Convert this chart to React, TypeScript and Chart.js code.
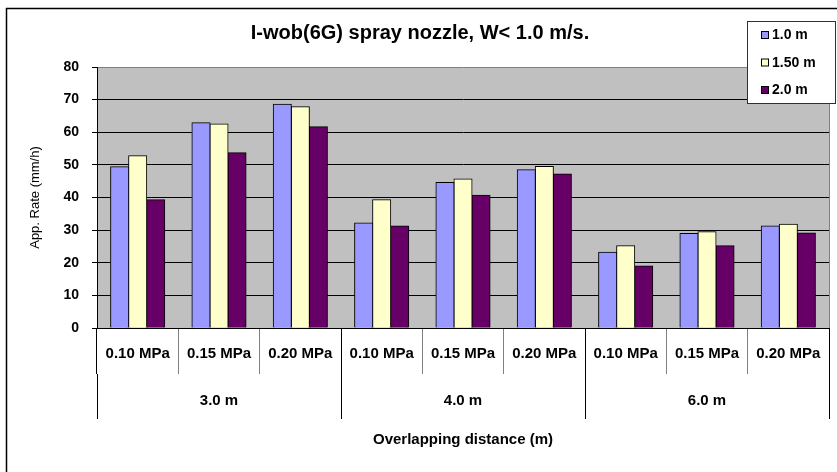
import React, { useEffect, useRef } from 'react';
import { Chart, registerables } from 'chart.js';

Chart.register(...registerables);

const chartTitle = 'I-wob(6G) spray nozzle, W< 1.0 m/s.';
const yAxisTitle = 'App. Rate (mm/h)';
const xAxisTitle = 'Overlapping distance (m)';

const pressureLabels = [
  '0.10 MPa', '0.15 MPa', '0.20 MPa',
  '0.10 MPa', '0.15 MPa', '0.20 MPa',
  '0.10 MPa', '0.15 MPa', '0.20 MPa',
];
const distanceGroups = ['3.0 m', '4.0 m', '6.0 m'];

const seriesNames = ['1.0 m', '1.50 m', '2.0 m'];
const series1 = [49.4, 62.9, 68.6, 32.2, 44.6, 48.5, 23.2, 29.0, 31.3];
const series2 = [52.8, 62.5, 67.8, 39.3, 45.7, 49.5, 25.2, 29.5, 31.8];
const series3 = [39.3, 53.7, 61.7, 31.3, 40.7, 47.2, 19.0, 25.2, 29.1];
const seriesColors = ['#9999FF', '#FFFFCC', '#660066'];

const yMin = 0;
const yMax = 80;
const yStep = 10;

const FONT = '"Liberation Sans", Arial, Helvetica, sans-serif';

const framePlugin = {
  id: 'frame',
  beforeDraw(chart: any) {
    const { ctx, chartArea } = chart;
    ctx.save();
    ctx.fillStyle = '#FFFFFF';
    ctx.fillRect(0, 0, chart.width, chart.height);
    // outer chart border (left & top visible)
    ctx.strokeStyle = '#000000';
    ctx.lineWidth = 1.5;
    ctx.beginPath();
    ctx.moveTo(6.5, chart.height + 2);
    ctx.lineTo(6.5, 8.5);
    ctx.lineTo(chart.width + 2, 8.5);
    ctx.stroke();
    // plot area background
    ctx.fillStyle = '#C0C0C0';
    ctx.fillRect(chartArea.left, chartArea.top, chartArea.right - chartArea.left, chartArea.bottom - chartArea.top);
    ctx.restore();
  },
  beforeDatasetsDraw(chart: any) {
    const { ctx, chartArea } = chart;
    ctx.save();
    ctx.strokeStyle = '#808080';
    ctx.lineWidth = 1;
    ctx.beginPath();
    const x = Math.round(chartArea.right) + 0.5;
    ctx.moveTo(x, chartArea.top);
    ctx.lineTo(x, chartArea.bottom);
    ctx.stroke();
    ctx.restore();
  },
};

const boxLegendPlugin = {
  id: 'boxLegend',
  afterDraw(chart: any) {
    const { ctx } = chart;
    const left = 747;
    const top = 21;
    const w = 89;
    const h = 83;
    ctx.save();
    ctx.fillStyle = '#FFFFFF';
    ctx.fillRect(left, top, w, h);
    ctx.strokeStyle = '#303030';
    ctx.lineWidth = 1;
    ctx.strokeRect(left + 0.5, top + 0.5, w - 1, h - 1);
    ctx.font = `bold 14px ${FONT}`;
    ctx.textBaseline = 'middle';
    ctx.textAlign = 'left';
    chart.data.datasets.forEach((ds: any, i: number) => {
      const cy = 35 + i * 27.5;
      ctx.fillStyle = ds.backgroundColor;
      ctx.fillRect(761, cy - 3.5, 7, 7);
      ctx.strokeStyle = '#000000';
      ctx.strokeRect(761.5, cy - 3.5, 7, 7);
      ctx.fillStyle = '#000000';
      ctx.fillText(ds.label, 772, cy + 0.5);
    });
    ctx.restore();
  },
};

export default function App() {
  const canvasRef = useRef<HTMLCanvasElement | null>(null);

  useEffect(() => {
    const canvas = canvasRef.current;
    if (!canvas) return;
    const seriesData = [series1, series2, series3];
    const groupLine = (c: any) =>
      c.index === undefined || c.index % 3 === 0 ? '#000000' : '#808080';

    const chart = new Chart(canvas, {
      type: 'bar',
      data: {
        labels: pressureLabels,
        datasets: seriesNames.map((name, i) => ({
          label: name,
          data: seriesData[i],
          backgroundColor: seriesColors[i],
          borderColor: '#000000',
          borderWidth: 1,
          inflateAmount: 0.5,
          barPercentage: 1.0,
          categoryPercentage: 0.665,
        })),
      },
      options: {
        responsive: false,
        animation: false,
        devicePixelRatio: 1,
        layout: { padding: { left: 11, right: 8, top: 0, bottom: 0 } },
        plugins: {
          legend: { display: false },
          tooltip: { enabled: false },
          title: {
            display: true,
            text: chartTitle,
            color: '#000000',
            font: { family: FONT, size: 20, weight: 'bold' },
            padding: { top: 21, bottom: 22 },
          },
        },
        scales: {
          x: {
            type: 'category',
            position: 'bottom',
            weight: 0,
            offset: true,
            grid: {
              offset: true,
              drawOnChartArea: false,
              drawTicks: true,
              tickLength: 46,
              color: groupLine,
              tickColor: groupLine,
            },
            border: { display: true, color: '#000000', width: 1 },
            ticks: {
              color: '#000000',
              font: { family: FONT, size: 15, weight: 'bold' },
              padding: -29,
              maxRotation: 0,
              minRotation: 0,
              autoSkip: false,
            },
            afterFit: (s: any) => {
              s.height = 46;
            },
          },
          x2: {
            type: 'category',
            labels: distanceGroups,
            position: 'bottom',
            weight: 1,
            offset: true,
            grid: {
              offset: true,
              drawOnChartArea: false,
              drawTicks: true,
              tickLength: 45,
              color: '#000000',
              tickColor: '#000000',
            },
            border: { display: false },
            ticks: {
              color: '#000000',
              font: { family: FONT, size: 15, weight: 'bold' },
              padding: -27,
              maxRotation: 0,
              minRotation: 0,
              autoSkip: false,
            },
            title: {
              display: true,
              text: xAxisTitle,
              color: '#000000',
              font: { family: FONT, size: 15, weight: 'bold' },
              padding: { top: 0, bottom: 23 },
            },
            afterFit: (s: any) => {
              s.height = 98;
            },
          },
          y: {
            type: 'linear',
            min: yMin,
            max: yMax,
            ticks: {
              stepSize: yStep,
              color: '#000000',
              font: { family: FONT, size: 14, weight: 'bold' },
              padding: 13,
            },
            grid: {
              color: (c: any) => (c.tick && c.tick.value === yMax ? '#808080' : '#000000'),
              tickColor: '#000000',
              tickLength: 5,
              drawTicks: true,
            },
            border: { display: true, color: '#000000', width: 1 },
            title: {
              display: true,
              text: yAxisTitle,
              color: '#000000',
              font: { family: FONT, size: 13 },
              padding: { top: 17, bottom: 0 },
            },
            afterFit: (s: any) => {
              s.width = 86;
            },
          },
        },
      },
      plugins: [framePlugin, boxLegendPlugin],
    } as any);

    return () => {
      chart.destroy();
    };
  }, []);

  return (
    <div style={{ position: 'absolute', left: 0, top: 0, width: 837, height: 472 }}>
      <canvas ref={canvasRef} width={837} height={472} style={{ display: 'block', width: 837, height: 472 }} />
    </div>
  );
}
